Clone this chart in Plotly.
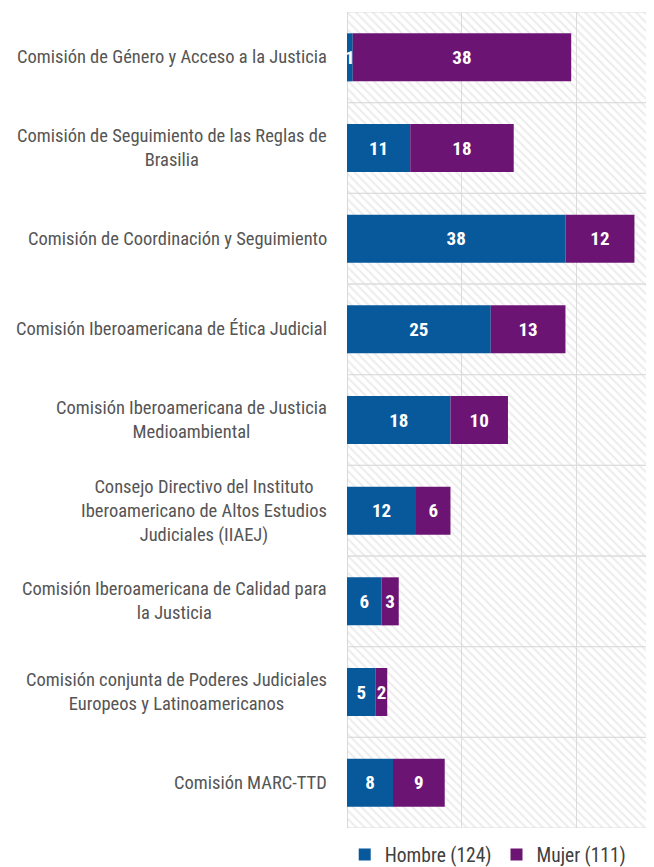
import plotly.graph_objects as go

categories = [
    "Comisión de Género y Acceso a la Justicia",
    "Comisión de Seguimiento de las Reglas de<br>Brasilia",
    "Comisión de Coordinación y Seguimiento",
    "Comisión Iberoamericana de Ética Judicial",
    "Comisión Iberoamericana de Justicia<br>Medioambiental",
    "Consejo Directivo del Instituto<br>Iberoamericano de Altos Estudios<br>Judiciales (IIAEJ)",
    "Comisión Iberoamericana de Calidad para<br>la Justicia",
    "Comisión conjunta de Poderes Judiciales<br>Europeos y Latinoamericanos",
    "Comisión MARC-TTD",
]
hombre = [1, 11, 38, 25, 18, 12, 6, 5, 8]
mujer = [38, 18, 12, 13, 10, 6, 3, 2, 9]
x_max = 53.4

FONT = "Roboto Condensed, DejaVu Sans Condensed, sans-serif"
BLUE = "#07599b"
PURPLE = "#6c1473"

fig = go.Figure()

# hatched background bands
fig.add_trace(go.Bar(
    y=categories, x=[x_max] * len(categories), orientation="h", width=1,
    marker=dict(color="rgba(0,0,0,0)",
                line=dict(color="#dcdcdc", width=1),
                pattern=dict(shape="\\", fgcolor="#dadada", bgcolor="rgba(0,0,0,0)",
                             size=6, solidity=0.35)),
    showlegend=False, hoverinfo="skip",
))

fig.add_trace(go.Bar(
    y=categories, x=hombre, orientation="h", width=0.53,
    name=f"Hombre ({sum(hombre)})",
    marker=dict(color=BLUE, line=dict(width=0)),
    text=[str(v) for v in hombre], textposition="inside", insidetextanchor="middle",
    constraintext="none",
    textfont=dict(family=FONT, size=19, color="white", weight="bold"),
))
fig.add_trace(go.Bar(
    y=categories, x=mujer, base=hombre, orientation="h", width=0.53,
    name=f"Mujer ({sum(mujer)})",
    marker=dict(color=PURPLE, line=dict(width=0)),
    text=[str(v) for v in mujer], textposition="inside", insidetextanchor="middle",
    constraintext="none",
    textfont=dict(family=FONT, size=19, color="white", weight="bold"),
))

for c in categories:
    fig.add_annotation(
        x=0, xref="paper", y=c, yref="y", xanchor="right", xshift=-18,
        text=c, showarrow=False, align="center",
        font=dict(family=FONT, size=18.5, color="#555555"),
    )

fig.update_layout(
    width=646, height=859,
    margin=dict(l=339, r=0, t=4, b=39, autoexpand=False),
    barmode="overlay",
    plot_bgcolor="white", paper_bgcolor="white",
    xaxis=dict(range=[0, x_max], dtick=20, showgrid=True, gridcolor="#dcdcdc",
               gridwidth=1, showticklabels=False, zeroline=True,
               zerolinecolor="#d4d4d4", zerolinewidth=1, ticks="", fixedrange=True),
    yaxis=dict(autorange="reversed", showticklabels=False, showgrid=False,
               ticks="", range=[8.5, -0.5]),
    legend=dict(orientation="h", x=0.46, xanchor="center", y=-0.033, yanchor="middle",
                font=dict(family=FONT, size=19.5, color="#404040"),
                traceorder="normal", itemwidth=30, tracegroupgap=0),
    showlegend=True,
)

fig.write_html("out.html")
